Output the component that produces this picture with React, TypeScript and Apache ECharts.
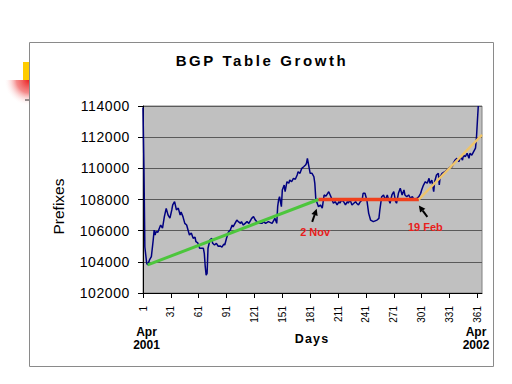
import React, { useEffect, useRef } from "react";
import * as echarts from "echarts";

const FONT = '"Liberation Sans", Arial, sans-serif';
const TITLE = "BGP Table Growth";

// Day index (1 = 1 Apr 2001)
const days = [
  1, 2, 3, 5, 6, 8, 10, 12, 13, 14,
  15, 17, 20, 22, 24, 26, 28, 30, 32, 33,
  35, 37, 39, 41, 42, 44, 46, 48, 50, 51,
  53, 55, 57, 58, 60, 62, 64, 66, 67, 68,
  69, 70, 71, 73, 75, 76, 78, 80, 82, 84,
  86, 88, 89, 91, 93, 95, 97, 98, 102, 104,
  106, 107, 109, 111, 113, 115, 118, 120, 122, 125,
  129, 131, 133, 136, 140, 143, 145, 146, 147, 148,
  150, 151, 153, 154, 156, 158, 159, 161, 163, 165,
  167, 168, 170, 172, 174, 176, 177, 178, 180, 181,
  183, 185, 186, 187, 188, 190, 192, 194, 195, 196,
  198, 201, 203, 204, 206, 208, 210, 212, 213, 215,
  217, 219, 221, 222, 224, 226, 228, 230, 231, 233,
  235, 237, 238, 240, 242, 244, 246, 249, 253, 255,
  256, 258, 260, 262, 264, 265, 267, 269, 271, 273,
  274, 276, 278, 280, 282, 283, 285, 287, 289, 291,
  292, 294, 296, 298, 300, 301, 303, 305, 307, 309,
  310, 312, 314, 315, 317, 319, 320, 321, 323, 326,
  328, 330, 332, 334, 335, 337, 339, 341, 343, 345,
  346, 348, 350, 352, 353, 355, 357, 359, 360, 361,
  362,
];

// BGP table size (prefixes)
const prefixes = [
  113900, 110100, 104950, 103900, 103800, 104120, 104330, 105400, 106040, 105720,
  105930, 105900, 106360, 106170, 106900, 107430, 107000, 106800, 107330, 107650,
  107860, 107330, 107450, 107000, 107200, 106900, 106470, 106360, 105930, 105720,
  105850, 105510, 105590, 105290, 105210, 104870, 104870, 104870, 104550, 103700,
  103150, 103260, 104870, 105400, 105510, 105190, 105080, 105190, 105000, 105020,
  104950, 105140, 105080, 105530, 105910, 106040, 106360, 106240, 106680, 106560,
  106470, 106580, 106360, 106470, 106580, 106470, 106790, 106900, 106680, 106470,
  106470, 106580, 106470, 106580, 106470, 106790, 106470, 107540, 107970, 108180,
  107540, 108610, 108930, 108500, 109140, 109040, 109250, 109140, 109360, 109300,
  109570, 109780, 109680, 110000, 110100, 110210, 110320, 110640, 110000, 109680,
  109680, 109460, 109040, 108080, 107860, 107540, 107650, 107440, 107860, 108290,
  108220, 108500, 108220, 108080, 107760, 107860, 107650, 107860, 107760, 107970,
  107860, 107650, 107860, 107760, 107970, 107650, 107760, 107860, 107760, 107650,
  107860, 107970, 108400, 108400, 107970, 107110, 106680, 106580, 106680, 106790,
  107330, 108180, 108290, 107970, 108290, 108080, 107760, 108290, 108500, 107860,
  107760, 108400, 108720, 108290, 108610, 108290, 108180, 108290, 108080, 108180,
  108080, 107970, 108080, 108180, 108400, 108610, 108930, 109140, 109040, 109360,
  109040, 109250, 108500, 109140, 109570, 109680, 108930, 109460, 109680, 109780,
  109890, 110000, 110100, 110100, 110320, 110530, 110640, 110430, 110750, 110530,
  110850, 110750, 110960, 110640, 110960, 110850, 111070, 111290, 111930, 112990,
  114000,
];

// Trend segments: green (growth), red (flat), orange (growth resumes)
const trendDays = [6, 190, 298, 366];
const trendValues = [103800, 108000, 108000, 112150];

// Annotations: arrow tip (data) + label
const annLabels = ["2 Nov", "19 Feb"];
const annDays = [188, 298];
const annValues = [107400, 107620];

const yMin = 102000;
const yMax = 114000;
const yStep = 2000;
const xMin = 1;
const xMax = 366;
const xStep = 30;

export default function App() {
  const ref = useRef<HTMLDivElement>(null);

  useEffect(() => {
    const el = ref.current;
    if (!el) return;
    const chart = echarts.init(el, null, { renderer: "svg" });

    const seg = (i: number) => [
      [trendDays[i], trendValues[i]],
      [trendDays[i + 1], trendValues[i + 1]],
    ];

    chart.setOption({
      animation: false,
      backgroundColor: "#ffffff",
      grid: {
        left: 143,
        top: 106,
        right: 30,
        bottom: 91,
        show: true,
        backgroundColor: "#C0C0C0",
        borderColor: "#808080",
        borderWidth: 1,
      },
      xAxis: {
        type: "value",
        min: xMin,
        max: xMax,
        interval: xStep,
        axisLine: { show: true, onZero: false, lineStyle: { color: "#000", width: 1 } },
        axisTick: { show: true, length: 5, lineStyle: { color: "#000" } },
        axisLabel: {
          rotate: 90,
          fontSize: 10,
          fontFamily: FONT,
          color: "#000",
          margin: 13,
          showMaxLabel: false,
          formatter: (v: number) => String(v),
        },
        splitLine: { show: false },
      },
      yAxis: {
        type: "value",
        min: yMin,
        max: yMax,
        interval: yStep,
        axisLine: { show: true, lineStyle: { color: "#000", width: 1 } },
        axisTick: { show: true, length: 5, lineStyle: { color: "#000" } },
        axisLabel: {
          fontSize: 14,
          fontFamily: FONT,
          color: "#000",
          margin: 13,
          formatter: (v: number) => String(v),
        },
        splitLine: { show: true, lineStyle: { color: "#5a5a5a", width: 1 } },
      },
      series: [
        {
          type: "line",
          data: days.map((d, i) => [d, prefixes[i]]),
          showSymbol: false,
          lineStyle: { color: "#000080", width: 1.5 },
          itemStyle: { color: "#000080" },
          z: 2,
        },
        {
          type: "line",
          data: seg(0),
          showSymbol: false,
          lineStyle: { color: "#4CC63C", width: 3 },
          z: 3,
        },
        {
          type: "line",
          data: seg(1),
          showSymbol: false,
          lineStyle: { color: "#F0401C", width: 3.5 },
          z: 3,
        },
        {
          type: "line",
          data: seg(2),
          showSymbol: false,
          lineStyle: { color: "#EEC46A", width: 2.5 },
          z: 3,
        },
      ],
    });

    const graphics: any[] = [
      // slide decoration
      {
        type: "rect",
        shape: { x: 23, y: 62, width: 6, height: 18 },
        style: { fill: "#FFCC00" },
        z: 1,
      },
      {
        type: "rect",
        shape: { x: 4, y: 80, width: 25, height: 26 },
        style: {
          fill: {
            type: "radial",
            x: 1,
            y: 0,
            r: 1,
            colorStops: [
              { offset: 0, color: "rgba(235,30,30,1)" },
              { offset: 0.5, color: "rgba(240,90,90,0.7)" },
              { offset: 1, color: "rgba(255,255,255,0)" },
            ],
          },
        },
        z: 1,
      },
      {
        type: "line",
        shape: { x1: 25, y1: 100, x2: 29, y2: 100 },
        style: { stroke: "#333", lineWidth: 1 },
        z: 1,
      },
      // outer frame
      {
        type: "rect",
        shape: { x: 29.5, y: 42.5, width: 464, height: 324 },
        style: { fill: "none", stroke: "#8a8a8a", lineWidth: 1 },
        z: 1,
      },
      {
        type: "text",
        x: 262,
        y: 60,
        style: {
          text: TITLE,
          fill: "#000",
          fontSize: 15,
          fontWeight: "bold",
          fontFamily: FONT,
          align: "center",
          verticalAlign: "middle",
          textAlign: "center",
          textVerticalAlign: "middle",
        },
        z: 5,
      },
      {
        type: "text",
        x: 58.5,
        y: 206.5,
        rotation: Math.PI / 2,
        style: {
          text: "Prefixes",
          fill: "#000",
          fontSize: 15.5,
          fontFamily: FONT,
          align: "center",
          verticalAlign: "middle",
          textAlign: "center",
          textVerticalAlign: "middle",
        },
        z: 5,
      },
      {
        type: "text",
        x: 312,
        y: 338.5,
        style: {
          text: "Days",
          fill: "#000",
          fontSize: 12.5,
          fontWeight: "bold",
          fontFamily: FONT,
          align: "center",
          verticalAlign: "middle",
          textAlign: "center",
          textVerticalAlign: "middle",
        },
        z: 5,
      },
      {
        type: "text",
        x: 146.5,
        y: 338.5,
        style: {
          text: "Apr\n2001",
          fill: "#000",
          fontSize: 12,
          fontWeight: "bold",
          fontFamily: FONT,
          lineHeight: 13.5,
          align: "center",
          verticalAlign: "middle",
          textAlign: "center",
          textVerticalAlign: "middle",
        },
        z: 5,
      },
      {
        type: "text",
        x: 476,
        y: 338.5,
        style: {
          text: "Apr\n2002",
          fill: "#000",
          fontSize: 12,
          fontWeight: "bold",
          fontFamily: FONT,
          lineHeight: 13.5,
          align: "center",
          verticalAlign: "middle",
          textAlign: "center",
          textVerticalAlign: "middle",
        },
        z: 5,
      },
    ];

    // arrow tail offsets and label offsets (pixels relative to tip)
    const tailOff = [
      [-4.5, 13],
      [8.5, 11.5],
    ];
    const labelOff = [
      [-1.5, 23],
      [6.5, 22],
    ];
    annLabels.forEach((lab, i) => {
      const p = chart.convertToPixel({ gridIndex: 0 }, [annDays[i], annValues[i]]) as number[];
      const tx = p[0];
      const ty = p[1];
      const sx = tx + tailOff[i][0];
      const sy = ty + tailOff[i][1];
      const len = Math.hypot(tx - sx, ty - sy);
      const dx = (tx - sx) / len;
      const dy = (ty - sy) / len;
      const hl = 6.5;
      const hw = 3.3;
      const bx = tx - dx * hl;
      const by = ty - dy * hl;
      const px = -dy;
      const py = dx;
      graphics.push({
        type: "line",
        shape: { x1: sx, y1: sy, x2: bx, y2: by },
        style: { stroke: "#000", lineWidth: 2 },
        z: 6,
      });
      graphics.push({
        type: "polygon",
        shape: {
          points: [
            [tx, ty],
            [bx + px * hw, by + py * hw],
            [bx - px * hw, by - py * hw],
          ],
        },
        style: { fill: "#000" },
        z: 6,
      });
      graphics.push({
        type: "text",
        x: tx + labelOff[i][0],
        y: ty + labelOff[i][1],
        style: {
          text: lab,
          fill: "#E8201C",
          fontSize: 11,
          fontWeight: "bold",
          fontFamily: FONT,
          align: "center",
          verticalAlign: "middle",
          textAlign: "center",
          textVerticalAlign: "middle",
        },
        z: 6,
      });
    });

    chart.setOption({ graphic: graphics });

    const applySpacing = () => {
      el.querySelectorAll("text").forEach((t) => {
        const s = t.textContent || "";
        if (s === TITLE) t.setAttribute("letter-spacing", "2.6");
        else if (s === "Days") t.setAttribute("letter-spacing", "1.2");
        else if (/^1\d{5}$/.test(s)) t.setAttribute("letter-spacing", "0.6");
      });
    };
    applySpacing();
    chart.on("finished", applySpacing);

    return () => {
      chart.dispose();
    };
  }, []);

  return (
    <div
      ref={ref}
      style={{ position: "fixed", left: 0, top: 0, width: 512, height: 384 }}
    />
  );
}
